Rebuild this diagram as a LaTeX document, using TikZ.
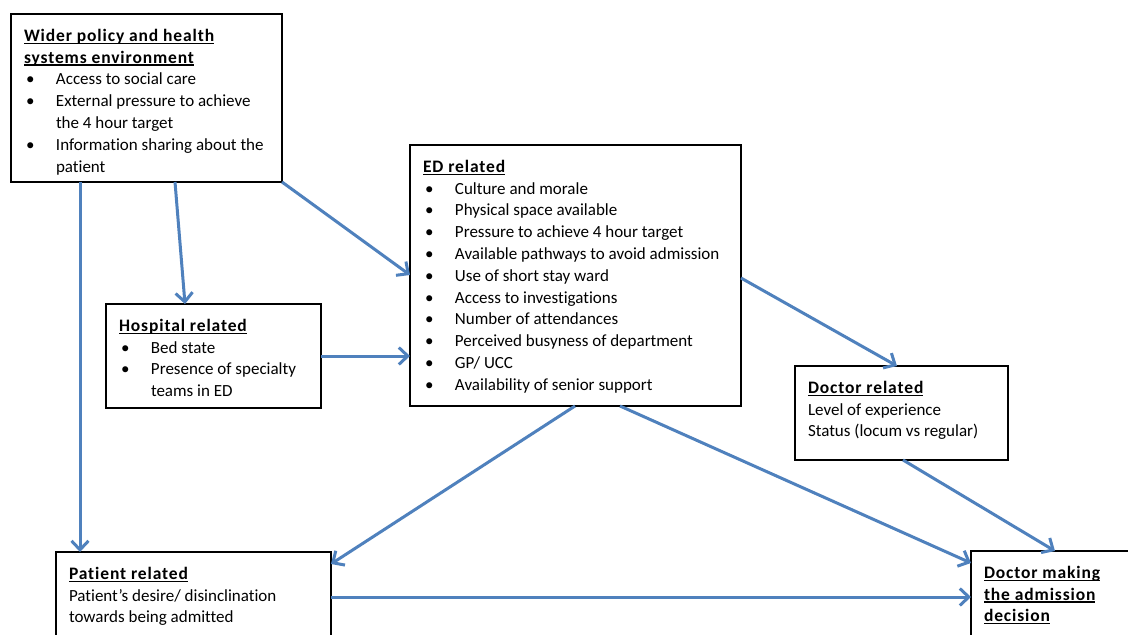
\documentclass[tikz,border=0pt]{standalone}
\usepackage{fontspec}
\setmainfont{Carlito}[Ligatures=NoCommon]
\usetikzlibrary{arrows.meta}
\definecolor{arrowblue}{RGB}{79,129,189}
% text block of a box: width, height, content
\newcommand\boxtext[3]{\parbox[t][#2][t]{#1}{\fontsize{17}{21.8}\selectfont\raggedright\strut #3}}
\newcommand\bitem[1]{\par\hangindent=32pt\hangafter=1\noindent\strut\makebox[32pt][l]{\hspace{2pt}\textbullet}#1}
\newcommand\boxhead[1]{\setbox0\hbox{\bfseries\fontsize{17.5}{21.8}\selectfont\addfontfeatures{LetterSpace=5}#1}\rlap{\rule[-2.6pt]{\wd0}{1.2pt}}\box0}
\begin{document}
\begin{tikzpicture}[x=1pt, y=-1pt,
    box/.style={draw, line width=2.5pt, anchor=north west, inner xsep=13pt, inner ysep=12pt, outer sep=0pt},
    flow/.style={draw=arrowblue, line width=3pt, -{Straight Barb[length=9pt,width=17pt]}}]
    \clip (0,0) rectangle (1128,635);
    \fill[white] (0,0) rectangle (1128,635);

    % boxes
    \node[box] (wider) at (11,14) {\boxtext{245pt}{144pt}{\boxhead{Wider policy and health}\newline\boxhead{systems environment}
        \bitem{Access to social care}
        \bitem{External pressure to achieve\newline the 4 hour target}
        \bitem{Information sharing about the\newline patient}}};
    \node[box] (hosp) at (106,304) {\boxtext{189pt}{80pt}{\boxhead{Hospital related}
        \bitem{Bed state}
        \bitem{Presence of specialty\newline teams in ED}}};
    \node[box] (ed) at (410,145) {\boxtext{305pt}{237pt}{\boxhead{ED related}
        \bitem{Culture and morale}
        \bitem{Physical space available}
        \bitem{Pressure to achieve 4 hour target}
        \bitem{Available pathways to avoid admission}
        \bitem{Use of short stay ward}
        \bitem{Access to investigations}
        \bitem{Number of attendances}
        \bitem{Perceived busyness of department}
        \bitem{GP/ UCC}
        \bitem{Availability of senior support}}};
    \node[box] (docrel) at (795,366) {\boxtext{187pt}{70pt}{\boxhead{Doctor related}\newline
        Level of experience\newline
        Status (locum vs regular)}};
    \node[box] (patient) at (56,552) {\boxtext{249pt}{120pt}{\boxhead{Patient related}\newline
        Patient’s desire/ disinclination\newline
        towards being admitted}};
    \node[box] (docmake) at (971,551) {\boxtext{174pt}{120pt}{\boxhead{Doctor making}\newline
        \boxhead{the admission}\newline
        \boxhead{decision}}};

    % wider environment down
    \draw[flow] ([xshift=69pt]wider.south west) -- ([xshift=24pt]patient.north west);
    \draw[flow] ([xshift=164pt]wider.south west) -- ([xshift=79pt]hosp.north west);
    \draw[flow] (wider.south east) -- ([yshift=-130pt]ed.north west);

    % hospital to ED
    \draw[flow] (hosp.east) -- (hosp.east -| ed.west);

    % ED out
    \draw[flow] ([yshift=-133pt]ed.north east) -- ([xshift=102pt]docrel.north west);
    \draw[flow] ([xshift=165pt]ed.south west) -- ([yshift=-12pt]patient.north east);
    \draw[flow] ([xshift=210pt]ed.south west) -- ([yshift=-12pt]docmake.north west);

    % to the decision
    \draw[flow] ([xshift=108pt]docrel.south west) -- ([xshift=84pt]docmake.north west);
    \draw[flow] ([yshift=-45pt]patient.north east) -- ([yshift=-46pt]docmake.north west);
\end{tikzpicture}
\end{document}
